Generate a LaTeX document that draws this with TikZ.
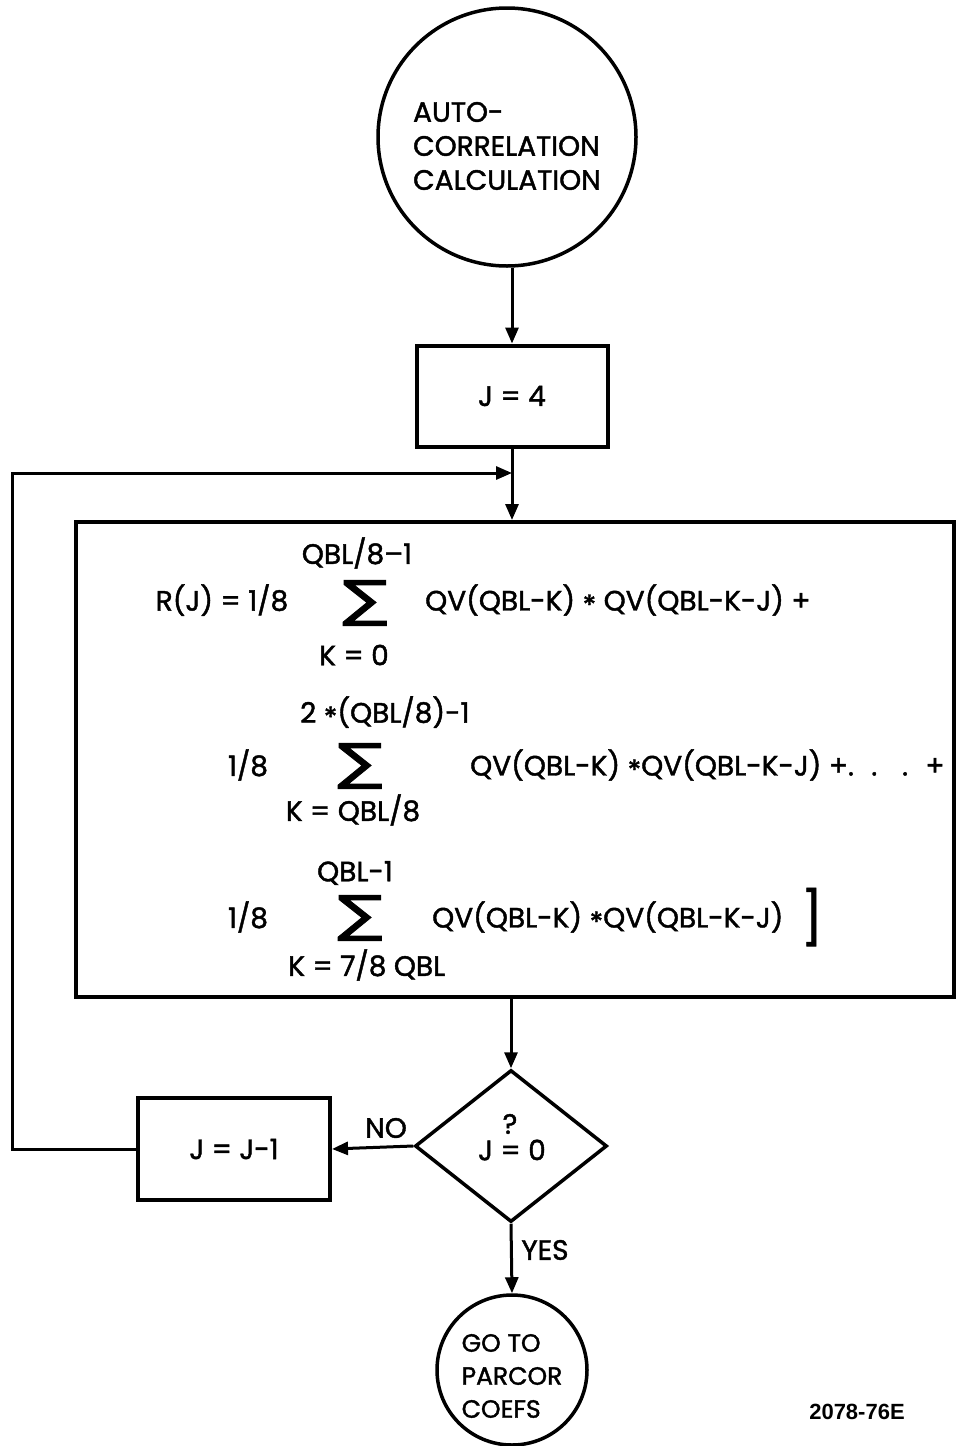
\documentclass[tikz,border=0pt]{standalone}
\usepackage{graphicx}
\usepackage{fontspec}
\setmainfont{Poppins}[FakeBold=1.5]
\newfontfamily\labfont{Liberation Sans}
\newfontfamily\sigfont{DejaVu Sans}[FakeBold=1.5]
\usetikzlibrary{shapes.geometric,arrows.meta}
\newcommand\mystar{\raisebox{-0.3ex}{*}}
\begin{document}
\begin{tikzpicture}[x=1pt,y=-1pt,
  font=\fontsize{28}{34}\selectfont,
  box/.style={draw,line width=4pt,inner sep=0pt},
  conn/.style={line width=3pt},
  arr/.style={-{Triangle[length=16pt,width=13pt]}},
  sig/.style={font=\sigfont\fontsize{50}{50}\selectfont,inner sep=0pt},
  txt/.style={inner sep=0pt}]
\useasboundingbox[fill=white] (0,0) rectangle (956,1446);
% top circle
\node[circle,draw,line width=3.5pt,minimum size=258pt,inner sep=0pt] (start) at (507,137) {};
\node[align=left,txt] (startlbl) at (507,146) {AUTO-\\CORRELATION\\CALCULATION};
% J = 4
\node[box,minimum width=191pt,minimum height=101pt] (j4) at (512,396) {J = 4};
% big box
\node[box,minimum width=878pt,minimum height=475pt] (calc) at (515,759.5) {};
% line 1
\node[txt] (r1a) at (222,600) {R(J) = 1/8};
\node[txt] (r1t) at (357,553) {QBL/8–1};
\node[sig] (s1) at (365,603) {\scalebox{1.35}[1]{∑}};
\node[txt] (r1b) at (354,655) {K = 0};
\node[txt,anchor=west] (r1c) at (425,600) {QV(QBL-K) \mystar{} QV(QBL-K-J) +};
% line 2
\node[txt,anchor=west] (r2t) at (300,712) {2 \mystar(QBL/8)-1};
\node[txt] (r2a) at (248,765) {1/8};
\node[sig] (s2) at (360,766) {\scalebox{1.35}[1]{∑}};
\node[txt] (r2b) at (353,810) {K = QBL/8};
\node[txt,anchor=west] (r2c) at (470,765) {QV(QBL-K) \mystar QV(QBL-K-J) +. \ . \ \ . \ +};
% line 3
\node[txt] (r3t) at (355,873) {QBL-1};
\node[txt] (r3a) at (248,917) {1/8};
\node[sig] (s3) at (360,918) {\scalebox{1.35}[1]{∑}};
\node[txt,anchor=west] (r3b) at (288,965) {K = 7/8 QBL};
\node[txt,anchor=west] (r3c) at (432,917) {QV(QBL-K) \mystar QV(QBL-K-J)};
\node[txt,font=\fontsize{52}{52}\selectfont] (br) at (812,917) {]};
% decision
\node[diamond,draw,line width=3.5pt,minimum width=192pt,minimum height=152pt,inner sep=0pt] (dec) at (511,1146) {};
\node[txt] (q) at (510,1124) {?};
\node[txt] (j0) at (512,1150) {J = 0};
% J = J-1
\node[box,minimum width=192pt,minimum height=102pt] (jm) at (234,1149) {J = J-1};
% end circle
\node[circle,draw,line width=3.5pt,minimum size=150pt,inner sep=0pt] (end) at (512,1370) {};
\node[align=left,txt,font=\fontsize{25}{33}\selectfont] (endlbl) at (512,1376) {GO TO\\PARCOR\\COEFS};
% labels
\node[txt] (no) at (386,1128) {NO};
\node[txt] (yes) at (545,1250) {YES};
\node[txt,font=\labfont\bfseries\fontsize{22}{26}\selectfont] (ref) at (857,1412) {2078-76E};
% connectors
\coordinate (merge) at (512,473);
\coordinate (lt) at (12,473);
\draw[conn,arr] (start.south -| j4.north) -- (j4.north);
\draw[conn,arr] (j4.south) -- (j4.south |- calc.north);
\draw[conn,arr] (jm.west) -| (lt) -- (merge);
\draw[conn,arr] (calc.south -| dec.north) -- (dec.north);
\draw[conn,arr] (dec.west) -- (jm.east);
\draw[conn,arr] (dec.south) -- (end.north);
\end{tikzpicture}
\end{document}
